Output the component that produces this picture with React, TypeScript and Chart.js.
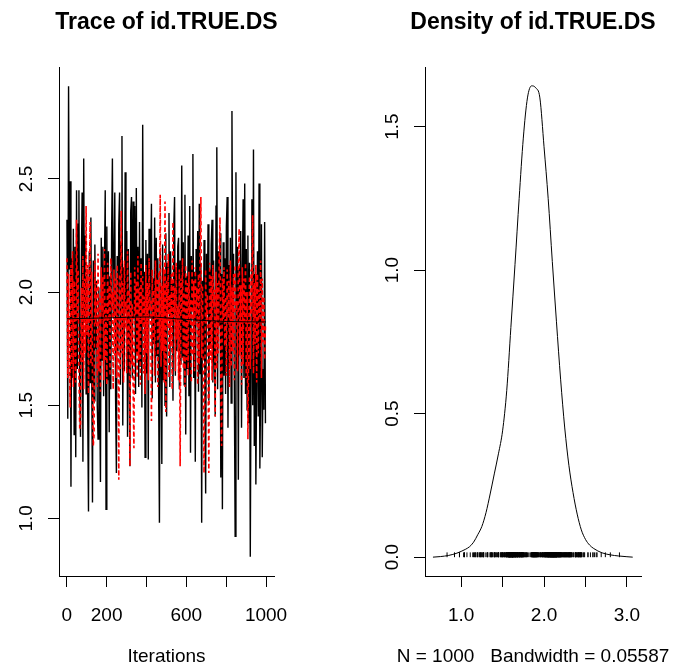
import React, { useEffect, useRef } from "react";
import { Chart, registerables } from "chart.js";

Chart.register(...registerables);

const FONT = '"Liberation Sans", Arial, Helvetica, sans-serif';

// Trace data: every 4th iteration of each chain
const THIN = 4;
const chainBlack = [
  2.32, 1.44, 2.91, 2.10, 2.49, 1.14, 2.15, 1.62, 2.28, 1.37,
  2.20, 1.27, 2.45, 1.66, 2.30, 2.45, 1.58, 1.36, 2.12, 2.44,
  1.25, 2.59, 1.87, 2.25, 1.55, 2.08, 1.48, 1.03, 2.18, 1.60,
  2.33, 1.68, 1.07, 2.14, 1.52, 2.21, 1.75, 2.05, 1.50, 1.35,
  2.02, 1.63, 1.16, 2.24, 1.70, 2.20, 1.54, 2.10, 2.45, 1.04,
  2.29, 1.61, 2.18, 1.38, 2.07, 1.57, 2.26, 2.59, 1.90, 2.12,
  2.44, 1.53, 1.20, 2.16, 1.74, 2.30, 2.44, 1.59, 2.22, 2.69,
  1.41, 2.11, 1.65, 2.53, 1.92, 2.27, 1.36, 2.19, 1.71, 1.23,
  2.36, 2.42, 1.62, 2.40, 1.88, 2.38, 1.55, 2.46, 1.73, 2.20,
  1.58, 2.31, 1.67, 2.15, 1.49, 2.74, 1.86, 2.09, 1.27, 2.23,
  1.64, 2.17, 1.26, 2.28, 1.89, 2.12, 2.39, 1.53, 2.06, 1.77,
  2.33, 1.60, 2.24, 1.72, 2.15, 1.56, 0.98, 2.19, 1.83, 1.24,
  2.21, 1.61, 2.08, 1.50, 2.26, 1.45, 2.13, 1.91, 2.35, 1.58,
  2.18, 1.88, 2.05, 1.52, 2.29, 2.42, 1.63, 2.11, 1.74, 2.20,
  2.24, 1.57, 2.14, 1.68, 2.56, 1.71, 2.22, 1.59, 2.43, 1.37,
  2.07, 1.66, 2.25, 1.54, 2.38, 1.29, 2.16, 1.93, 2.61, 1.62,
  2.09, 1.25, 2.19, 1.87, 2.27, 1.56, 2.39, 1.64, 2.13, 0.98,
  2.05, 1.70, 2.23, 1.58, 1.11, 2.17, 1.90, 2.30, 1.52, 2.10,
  1.75, 2.21, 2.32, 1.60, 2.14, 1.69, 1.45, 2.38, 2.64, 1.57,
  2.18, 1.85, 2.26, 1.18, 2.08, 1.04, 2.22, 1.63, 2.15, 1.55,
  2.29, 2.42, 1.40, 2.12, 1.68, 2.24, 1.51, 2.80, 1.91, 2.17,
  1.59, 0.92, 2.53, 1.66, 2.20, 1.17, 2.11, 1.88, 2.27, 1.40,
  2.06, 2.41, 1.62, 2.48, 1.55, 2.19, 1.48, 2.25, 1.42, 2.13,
  0.83, 1.70, 2.41, 1.50, 2.63, 1.32, 2.08, 1.15, 1.62, 2.18,
  1.45, 2.48, 1.22, 1.58, 2.30, 1.27, 1.66, 1.48, 2.31, 1.42,
];
const chainRed = [
  2.15, 1.62, 2.08, 1.71, 1.49, 2.12, 1.66, 2.18, 1.58, 2.05,
  1.75, 1.60, 2.32, 1.88, 2.10, 1.64, 1.40, 1.40, 2.02, 1.69,
  2.16, 1.57, 2.06, 1.73, 2.38, 1.81, 2.12, 1.55, 2.00, 2.31,
  1.68, 2.09, 1.60, 1.32, 1.37, 2.14, 1.86, 2.04, 1.58, 2.17,
  1.65, 1.98, 1.56, 2.11, 1.91, 2.07, 1.61, 2.19, 1.70, 1.95,
  1.59, 2.13, 1.87, 2.03, 1.63, 2.15, 1.93, 2.00, 1.57, 2.10,
  1.72, 2.06, 1.62, 2.12, 1.89, 1.17, 2.08, 1.66, 2.36, 1.73,
  2.04, 1.60, 2.14, 1.84, 1.96, 1.64, 2.18, 1.75, 2.01, 1.23,
  2.09, 1.68, 1.95, 1.58, 1.31, 2.11, 1.90, 2.05, 1.62, 2.16,
  1.70, 2.02, 1.59, 2.13, 1.86, 2.07, 1.64, 1.98, 1.55, 2.12,
  1.73, 2.04, 1.61, 2.15, 1.92, 1.96, 1.43, 2.10, 1.78, 2.01,
  1.63, 2.14, 1.88, 2.06, 1.58, 2.09, 1.80, 2.43, 1.67, 2.03,
  1.74, 2.11, 1.60, 2.40, 1.47, 2.05, 1.85, 2.17, 1.62, 1.99,
  1.76, 2.08, 1.57, 2.31, 1.89, 2.02, 1.65, 2.13, 1.79, 1.94,
  1.61, 2.10, 1.23, 2.06, 1.91, 2.15, 1.66, 2.00, 1.58, 2.12,
  1.70, 2.04, 1.63, 2.09, 1.87, 1.97, 1.60, 2.14, 1.72, 2.05,
  1.65, 2.11, 1.90, 2.02, 1.59, 2.08, 1.68, 2.16, 2.42, 1.71,
  2.03, 1.62, 1.20, 1.58, 2.10, 1.86, 1.99, 1.64, 1.20, 2.13,
  1.70, 2.07, 1.61, 2.12, 1.93, 2.01, 1.45, 2.09, 1.66, 2.04,
  1.73, 2.15, 2.33, 1.60, 1.32, 2.06, 1.88, 2.11, 1.76, 1.98,
  1.63, 2.10, 1.89, 2.05, 1.58, 2.14, 1.67, 2.02, 1.74, 2.08,
  1.61, 2.12, 1.92, 1.96, 1.65, 2.09, 2.28, 1.72, 2.03, 1.59,
  2.11, 1.68, 2.06, 1.87, 2.13, 1.62, 2.00, 1.35, 1.79, 2.07,
  1.66, 2.10, 1.90, 2.34, 1.64, 2.04, 1.77, 2.12, 1.60, 2.08,
  1.73, 2.01, 1.89, 2.14, 1.62, 2.06, 1.78, 1.98, 1.70, 1.85,
];
const smoothIter = [1, 200, 400, 600, 800, 1000];
const smoothBlack = [1.882, 1.886, 1.890, 1.879, 1.870, 1.868];
const smoothRed = [1.878, 1.880, 1.884, 1.874, 1.868, 1.866];

const traceXTicks = [0, 200, 400, 600, 800, 1000];
const traceXLabels = ["0", "200", "", "600", "", "1000"];
const traceYTicks = [1.0, 1.5, 2.0, 2.5];
const traceYLabels = ["1.0", "1.5", "2.0", "2.5"];

// Density estimate
const densX = [
  0.66, 0.75, 0.85, 0.95, 1.0, 1.05, 1.1, 1.15, 1.2, 1.25, 1.3, 1.35, 1.4, 1.45,
  1.5, 1.55, 1.6, 1.65, 1.7, 1.75, 1.8, 1.85, 1.9, 1.95, 2.0, 2.05, 2.1, 2.15,
  2.2, 2.25, 2.3, 2.35, 2.4, 2.45, 2.5, 2.55, 2.6, 2.7, 2.8, 2.9, 3.0, 3.07,
];
const densY = [
  0.0, 0.002, 0.006, 0.014, 0.02, 0.027, 0.036, 0.052, 0.078, 0.107, 0.155, 0.22,
  0.29, 0.36, 0.44, 0.58, 0.8, 1.02, 1.25, 1.46, 1.6, 1.642, 1.635, 1.6, 1.43,
  1.25, 1.03, 0.82, 0.62, 0.45, 0.32, 0.225, 0.15, 0.095, 0.062, 0.042, 0.03,
  0.015, 0.008, 0.004, 0.0015, 0.0,
];
const densXTicks = [1.0, 1.5, 2.0, 2.5, 3.0];
const densXLabels = ["1.0", "", "2.0", "", "3.0"];
const densYTicks = [0.0, 0.5, 1.0, 1.5];
const densYLabels = ["0.0", "0.5", "1.0", "1.5"];

const traceTitle = "Trace of id.TRUE.DS";
const traceSub = "Iterations";
const densTitle = "Density of id.TRUE.DS";
const densSub = "N = 1000   Bandwidth = 0.05587";

function axis(min: number, max: number, ticks: number[], fitKey: "width" | "height", fitVal: number) {
  return {
    type: "linear" as const,
    min,
    max,
    afterBuildTicks: (s: any) => {
      s.ticks = ticks.map((v) => ({ value: v }));
    },
    afterFit: (s: any) => {
      s[fitKey] = fitVal;
    },
    ticks: { display: false },
    grid: {
      display: true,
      drawOnChartArea: false,
      drawTicks: true,
      tickLength: 11,
      color: "#000",
      lineWidth: 1,
    },
    border: { display: true, color: "#000", width: 1 },
  };
}

function decor(
  title: string,
  sub: string,
  xTicks: number[],
  xLabels: string[],
  yTicks: number[],
  yLabels: string[]
) {
  return {
    id: "rDecor",
    afterDraw(chart: any) {
      const ctx = chart.ctx;
      const a = chart.chartArea;
      const xs = chart.scales.x;
      const ys = chart.scales.y;
      ctx.save();
      ctx.fillStyle = "#000";
      ctx.font = `19px ${FONT}`;
      ctx.textAlign = "center";
      ctx.textBaseline = "alphabetic";
      xTicks.forEach((v, i) => {
        if (xLabels[i]) ctx.fillText(xLabels[i], xs.getPixelForValue(v), a.bottom + 45);
      });
      yTicks.forEach((v, i) => {
        ctx.save();
        ctx.translate(a.left - 27, ys.getPixelForValue(v));
        ctx.rotate(-Math.PI / 2);
        ctx.fillText(yLabels[i], 0, 0);
        ctx.restore();
      });
      ctx.fillText(sub, (a.left + a.right) / 2, a.bottom + 86);
      ctx.font = `bold 23px ${FONT}`;
      ctx.fillText(title, (a.left + a.right) / 2, 29);
      ctx.restore();
    },
  };
}

const commonPlugins = {
  legend: { display: false },
  tooltip: { enabled: false },
  title: { display: false },
};

export default function App() {
  const leftRef = useRef<HTMLCanvasElement>(null);
  const rightRef = useRef<HTMLCanvasElement>(null);

  useEffect(() => {
    const toPts = (arr: number[]) => arr.map((v, i) => ({ x: i * THIN + 1, y: v }));
    const c1 = new Chart(leftRef.current as HTMLCanvasElement, {
      type: "line",
      data: {
        datasets: [
          {
            data: toPts(chainBlack),
            borderColor: "#000000",
            borderWidth: 1.4,
            pointRadius: 0,
            order: 4,
          },
          {
            data: toPts(chainRed),
            borderColor: "#FF0000",
            borderWidth: 1.6,
            borderDash: [4, 3],
            pointRadius: 0,
            order: 3,
          },
          {
            data: smoothIter.map((x, i) => ({ x, y: smoothRed[i] })),
            borderColor: "#FF0000",
            borderWidth: 1,
            borderDash: [4, 4],
            pointRadius: 0,
            cubicInterpolationMode: "monotone",
            order: 2,
          },
          {
            data: smoothIter.map((x, i) => ({ x, y: smoothBlack[i] })),
            borderColor: "#000000",
            borderWidth: 1,
            pointRadius: 0,
            cubicInterpolationMode: "monotone",
            order: 1,
          },
        ] as any,
      },
      options: {
        animation: false,
        responsive: false,
        devicePixelRatio: 1,
        layout: { padding: { top: 67, right: 66, left: 0, bottom: 0 } },
        scales: {
          x: axis(-39, 1040, traceXTicks, "height", 96),
          y: axis(0.745, 2.995, traceYTicks, "width", 59),
        } as any,
        plugins: commonPlugins as any,
      },
      plugins: [decor(traceTitle, traceSub, traceXTicks, traceXLabels, traceYTicks, traceYLabels)],
    });

    const obs = [...chainBlack, ...chainRed];
    const rugY = Math.max(...densY) / 200;
    const c2 = new Chart(rightRef.current as HTMLCanvasElement, {
      type: "line",
      data: {
        datasets: [
          {
            data: densX.map((x, i) => ({ x, y: densY[i] })),
            borderColor: "#000000",
            borderWidth: 1,
            pointRadius: 0,
            cubicInterpolationMode: "monotone",
            order: 2,
          },
          {
            type: "scatter",
            data: obs.map((x) => ({ x, y: rugY })),
            showLine: false,
            pointStyle: "line",
            pointRotation: 90,
            pointRadius: 2.4,
            pointHoverRadius: 2.4,
            pointBorderColor: "#000000",
            pointBorderWidth: 1,
            borderColor: "#000000",
            order: 1,
          },
        ] as any,
      },
      options: {
        animation: false,
        responsive: false,
        devicePixelRatio: 1,
        layout: { padding: { top: 67, right: 39, left: 0, bottom: 0 } },
        scales: {
          x: axis(0.564, 3.17, densXTicks, "height", 96),
          y: axis(-0.0657, 1.7077, densYTicks, "width", 85),
        } as any,
        plugins: commonPlugins as any,
      },
      plugins: [decor(densTitle, densSub, densXTicks, densXLabels, densYTicks, densYLabels)],
    });

    return () => {
      c1.destroy();
      c2.destroy();
    };
  }, []);

  return (
    <div style={{ position: "absolute", left: 0, top: 0, width: 680, height: 672, background: "#ffffff" }}>
      <canvas
        ref={leftRef}
        width={340}
        height={672}
        style={{ position: "absolute", left: 0, top: 0, width: 340, height: 672 }}
      />
      <canvas
        ref={rightRef}
        width={340}
        height={672}
        style={{ position: "absolute", left: 340, top: 0, width: 340, height: 672 }}
      />
    </div>
  );
}
